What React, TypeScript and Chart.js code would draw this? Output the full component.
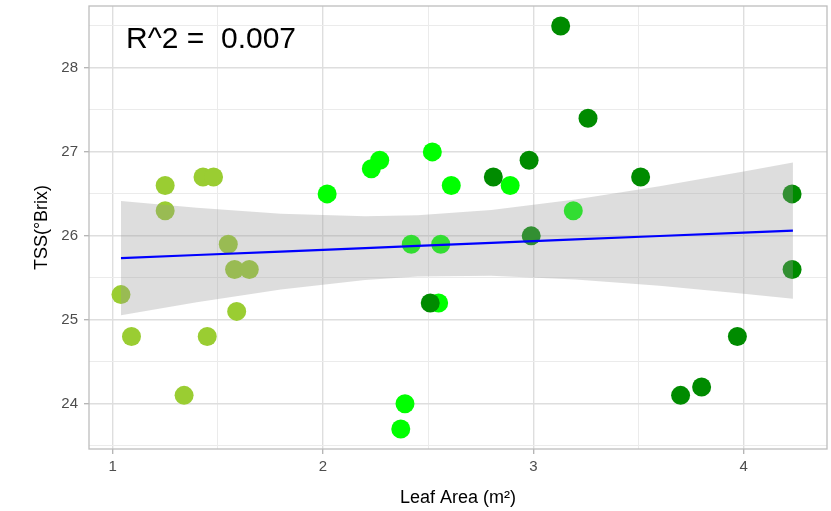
import React, { useEffect, useRef } from "react";
import { Chart, registerables } from "chart.js";

Chart.register(...registerables);

// Point groups (Leaf Area m², TSS °Brix)
const yellowX = [1.04, 1.09, 1.25, 1.25, 1.34, 1.43, 1.45, 1.48, 1.55, 1.58, 1.59, 1.65];
const yellowY = [25.3, 24.8, 26.6, 26.3, 24.1, 26.7, 24.8, 26.7, 25.9, 25.6, 25.1, 25.6];
const limeX = [2.02, 2.23, 2.27, 2.37, 2.39, 2.42, 2.52, 2.55, 2.56, 2.61, 2.89, 3.19];
const limeY = [26.5, 26.8, 26.9, 23.7, 24.0, 25.9, 27.0, 25.2, 25.9, 26.6, 26.6, 26.3];
const darkX = [2.51, 2.81, 2.98, 2.99, 3.13, 3.26, 3.51, 3.7, 3.8, 3.97, 4.23, 4.23];
const darkY = [25.2, 26.7, 26.9, 26.0, 28.5, 27.4, 26.7, 24.1, 24.2, 24.8, 26.5, 25.6];

// Linear fit and confidence band
const fitX = [1.04, 1.4, 1.8, 2.2, 2.45, 2.8, 3.2, 3.6, 4.0, 4.234];
const fitY = [25.735, 25.772, 25.813, 25.854, 25.88, 25.916, 25.957, 25.998, 26.039, 26.063];
const fitUpper = [26.415, 26.334, 26.264, 26.233, 26.245, 26.308, 26.433, 26.591, 26.768, 26.875];
const fitLower = [25.055, 25.21, 25.362, 25.475, 25.515, 25.524, 25.481, 25.405, 25.31, 25.251];

// Axes
const xTicks = [1, 1.5, 2, 2.5, 3, 3.5, 4];
const yTicks = [23.5, 24, 24.5, 25, 25.5, 26, 26.5, 27, 27.5, 28, 28.5];
const xRange = [0.888, 4.396];
const yRange = [23.461, 28.738];
const xTitle = "Leaf Area (m²)";
const yTitle = "TSS(°Brix)";
const r2Label = "R^2 =  0.007";
const r2Pos = [1.468, 28.34];

const FONT = '"Liberation Sans", Arial, Helvetica, sans-serif';

const pts = (xs: number[], ys: number[]) => xs.map((x, i) => ({ x, y: ys[i] }));
const isMajor = (v: number) => Math.abs(v - Math.round(v)) < 1e-9;

export default function App() {
  const ref = useRef<HTMLCanvasElement | null>(null);

  useEffect(() => {
    if (!ref.current) return;
    Chart.defaults.font.family = FONT;

    const panelPlugin = {
      id: "panel",
      afterDraw(chart: any) {
        const { ctx, chartArea, scales } = chart;
        ctx.save();
        ctx.strokeStyle = "#BDBDBD";
        ctx.lineWidth = 1.3;
        ctx.strokeRect(chartArea.left, chartArea.top, chartArea.right - chartArea.left, chartArea.bottom - chartArea.top);
        ctx.fillStyle = "#000000";
        ctx.font = "30px " + FONT;
        ctx.textAlign = "center";
        ctx.textBaseline = "middle";
        ctx.fillText(r2Label, scales.x.getPixelForValue(r2Pos[0]), scales.y.getPixelForValue(r2Pos[1]));
        ctx.restore();
      },
    };

    const gridOpts = {
      color: (c: any) => (isMajor(c.tick.value) ? "#DEDEDE" : "#EBEBEB"),
      lineWidth: (c: any) => (isMajor(c.tick.value) ? 1.4 : 1),
      tickColor: (c: any) => (isMajor(c.tick.value) ? "#B3B3B3" : "rgba(0,0,0,0)"),
      tickLength: 5,
      tickWidth: 1.3,
    };

    const chart = new Chart(ref.current, {
      type: "scatter",
      data: {
        datasets: [
          {
            type: "line",
            data: pts(fitX, fitY),
            borderColor: "#0000FF",
            borderWidth: 2.2,
            pointRadius: 0,
            showLine: true,
            tension: 0,
            fill: false,
            order: 0,
          } as any,
          {
            type: "line",
            data: pts(fitX, fitUpper),
            borderColor: "rgba(0,0,0,0)",
            borderWidth: 0,
            pointRadius: 0,
            showLine: true,
            tension: 0,
            fill: "+1",
            backgroundColor: "rgba(153,153,153,0.33)",
            order: 1,
          } as any,
          {
            type: "line",
            data: pts(fitX, fitLower),
            borderColor: "rgba(0,0,0,0)",
            borderWidth: 0,
            pointRadius: 0,
            showLine: true,
            tension: 0,
            fill: false,
            order: 2,
          } as any,
          {
            data: pts(darkX, darkY),
            backgroundColor: "#008B00",
            borderWidth: 0,
            pointRadius: 9.5,
            order: 3,
          },
          {
            data: pts(limeX, limeY),
            backgroundColor: "#00FF00",
            borderWidth: 0,
            pointRadius: 9.5,
            order: 4,
          },
          {
            data: pts(yellowX, yellowY),
            backgroundColor: "#9ACD32",
            borderWidth: 0,
            pointRadius: 9.5,
            order: 5,
          },
        ],
      },
      options: {
        responsive: false,
        animation: false,
        layout: { autoPadding: false, padding: { top: 6, right: 4, left: 0, bottom: 0 } },
        plugins: {
          legend: { display: false },
          tooltip: { enabled: false },
        },
        scales: {
          x: {
            type: "linear",
            min: xRange[0],
            max: xRange[1],
            afterBuildTicks: (s: any) => {
              s.ticks = xTicks.map((v) => ({ value: v }));
            },
            afterFit: (s: any) => {
              s.height = 62;
              s.paddingLeft = 0;
              s.paddingRight = 0;
            },
            grid: gridOpts as any,
            border: { display: false },
            ticks: {
              autoSkip: false,
              maxRotation: 0,
              padding: 4,
              color: "#4D4D4D",
              font: { size: 15 },
              callback: (v: any) => (isMajor(Number(v)) ? String(v) : ""),
            },
            title: {
              display: true,
              text: xTitle,
              color: "#000000",
              font: { size: 18 },
              padding: { top: 2, bottom: 2 },
            },
          },
          y: {
            type: "linear",
            min: yRange[0],
            max: yRange[1],
            afterBuildTicks: (s: any) => {
              s.ticks = yTicks.map((v) => ({ value: v }));
            },
            afterFit: (s: any) => {
              s.width = 89;
              s.paddingTop = 0;
              s.paddingBottom = 0;
            },
            grid: gridOpts as any,
            border: { display: false },
            ticks: {
              autoSkip: false,
              padding: 6,
              color: "#4D4D4D",
              font: { size: 15 },
              callback: (v: any) => (isMajor(Number(v)) ? String(v) : ""),
            },
            title: {
              display: true,
              text: yTitle,
              color: "#000000",
              font: { size: 18 },
              padding: { top: 31, bottom: 0 },
            },
          },
        },
      },
      plugins: [panelPlugin],
    } as any);

    return () => chart.destroy();
  }, []);

  return (
    <div style={{ position: "fixed", left: 0, top: 0, width: 831, height: 511, background: "#FFFFFF" }}>
      <canvas ref={ref} width={831} height={511} style={{ display: "block" }} />
    </div>
  );
}
